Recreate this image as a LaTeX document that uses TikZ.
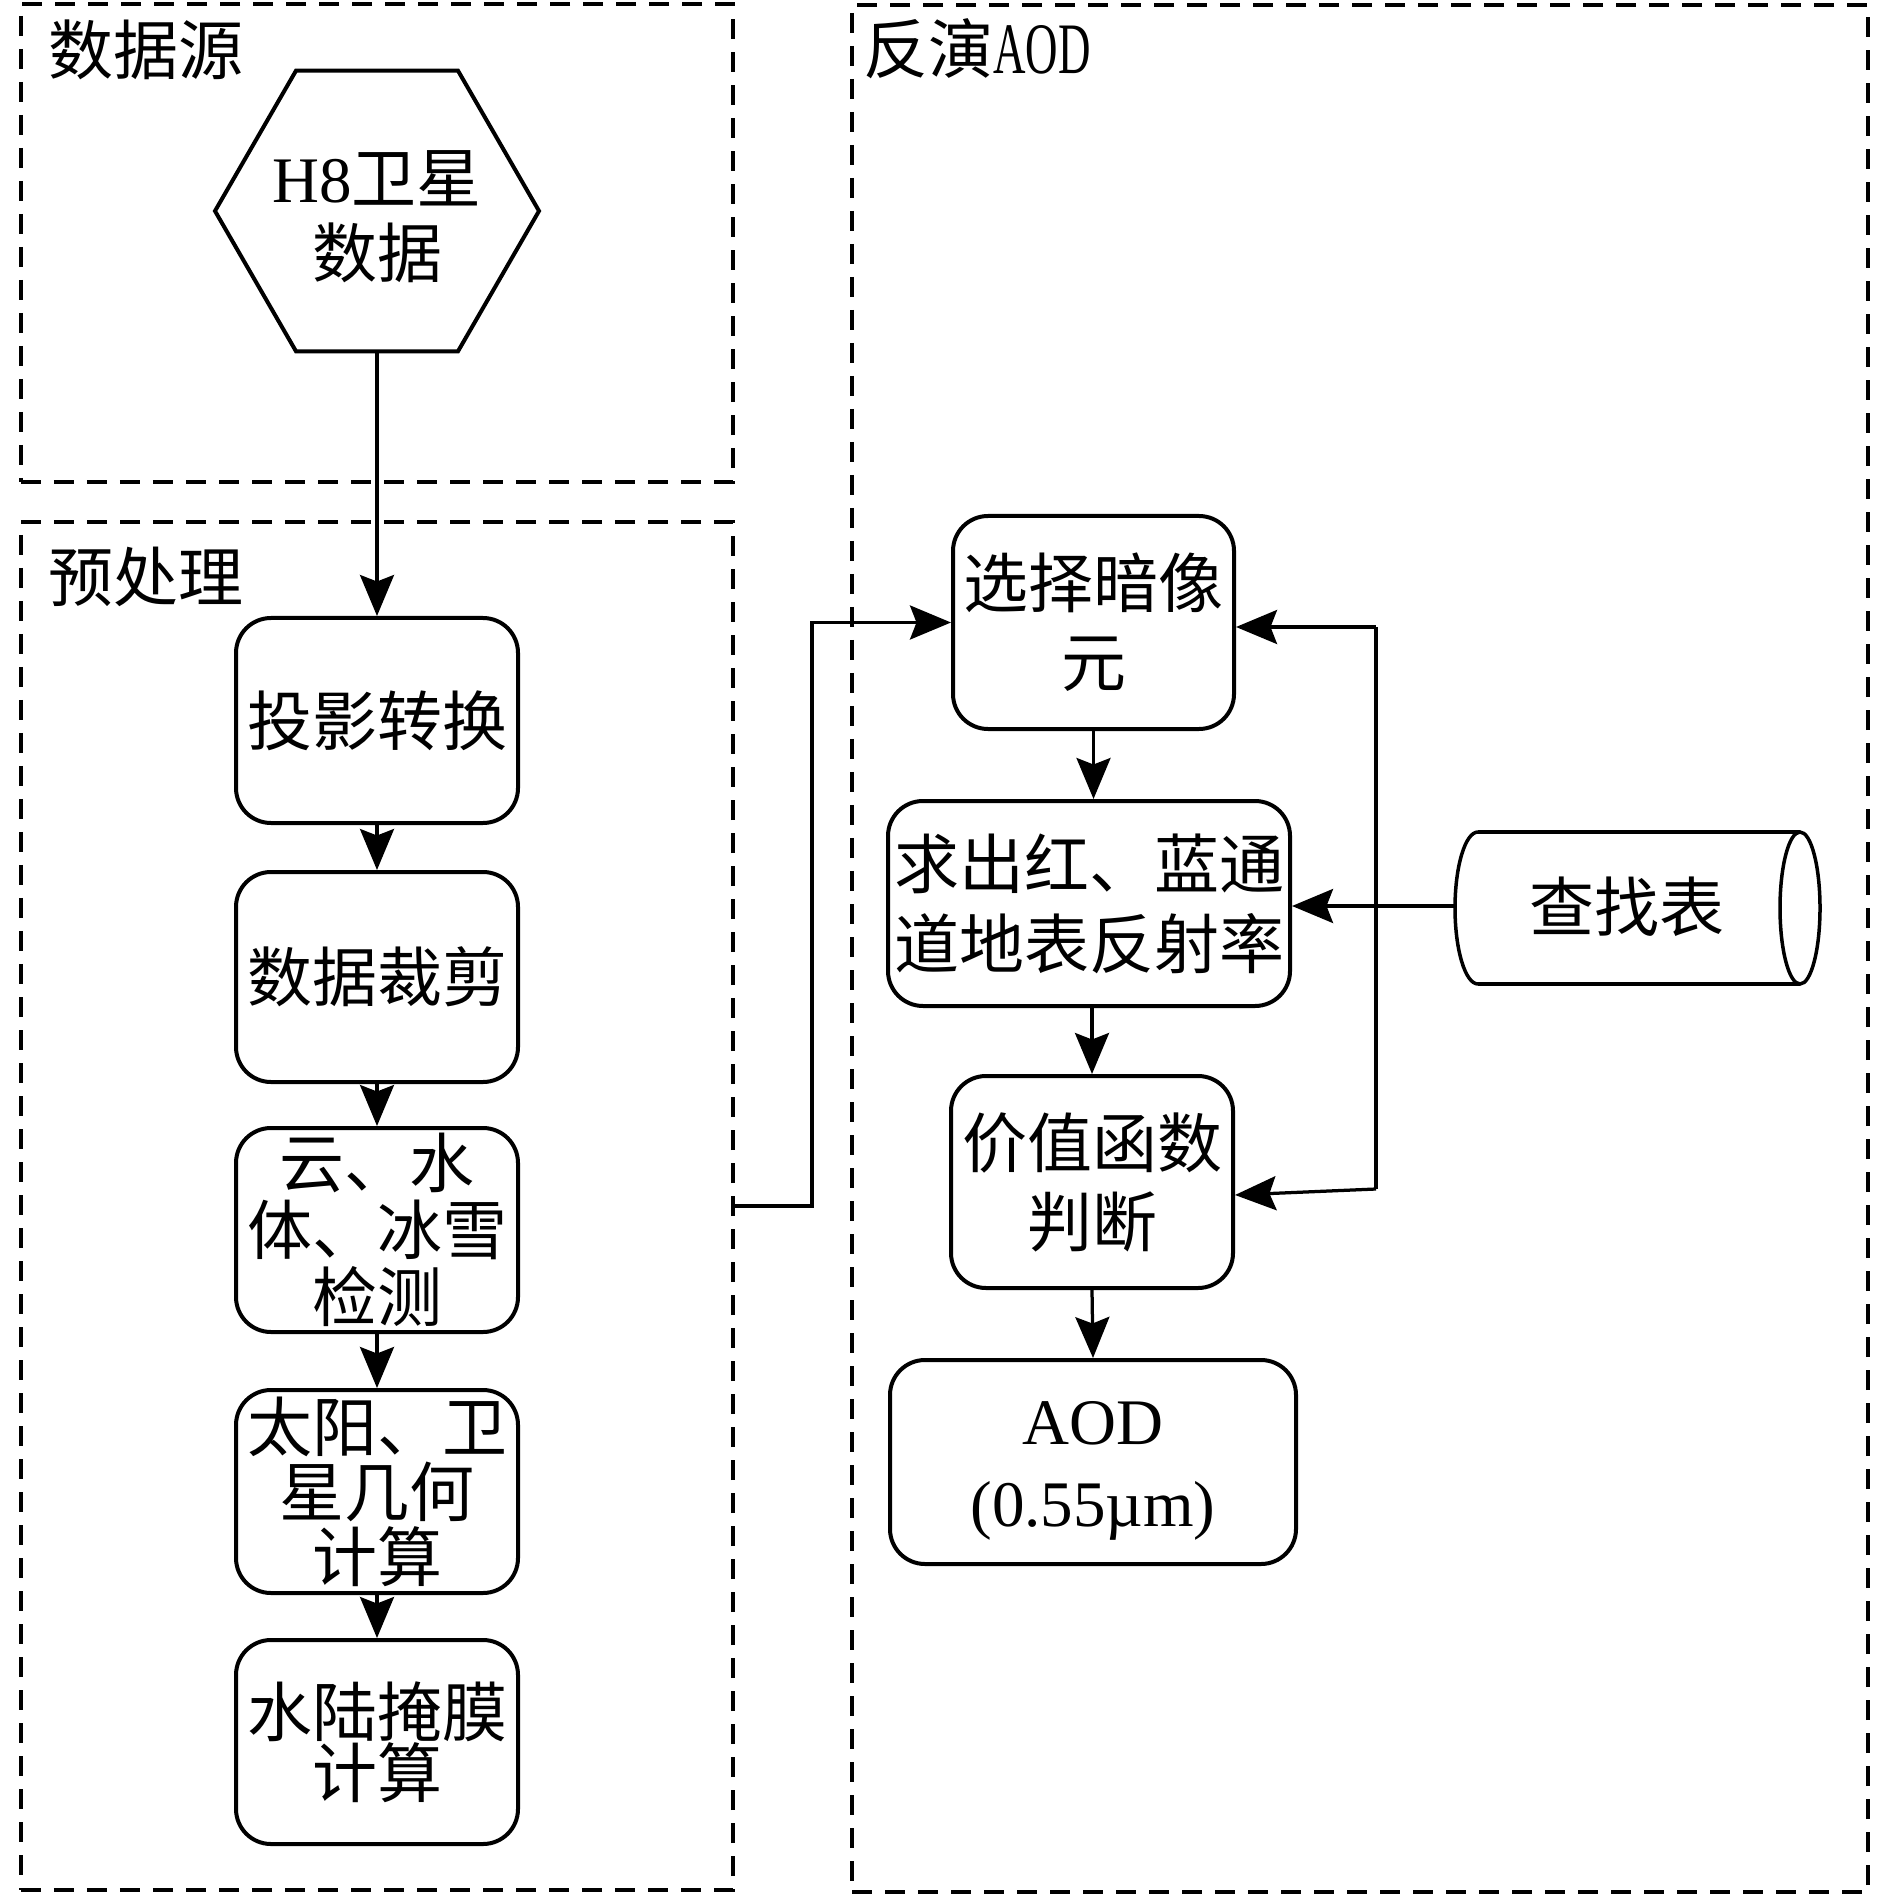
\documentclass[tikz,border=0pt]{standalone}
\usepackage{fontspec}
\usepackage{graphicx}
\setmainfont{Liberation Serif}
\newfontfamily\cjk{Noto Sans CJK SC}
\usetikzlibrary{arrows.meta,shapes.geometric}
\begin{document}
\begin{tikzpicture}[x=0.4pt,y=-0.4pt,
  grp/.style={draw, line width=1.6pt, dash pattern=on 8pt off 5.2pt, rectangle, inner sep=0pt},
  rbox/.style={draw, line width=1.6pt, rounded corners=14pt, align=center, inner sep=0pt,
               font=\cjk\fontsize{26}{#1}\selectfont},
  conn/.style={line width=1.3pt},
  arr/.style={line width=1.3pt, -{Stealth[length=16.4pt,width=13.6pt,inset=2.6pt]}},
  ttl/.style={anchor=west, inner sep=0pt, font=\cjk\fontsize{26}{26}\selectfont}]
\useasboundingbox (0,0) rectangle (1890,1897);

% group frames
\node[grp, minimum width=284.8pt, minimum height=191.2pt] (A) at (377,243) {};
\node[grp, minimum width=284.8pt, minimum height=547.2pt] (B) at (377,1206) {};
\node[grp, minimum width=406.4pt, minimum height=754.8pt] (C) at (1360,948.5) {};

% titles
\node[ttl] (tA) at (48,50) {数据源};
\node[ttl] (tB) at (48,577) {预处理};
\node[ttl] (tC) at (863,49) {反演{\fontsize{29}{29}\selectfont\rmfamily\scalebox{0.62}[1]{AOD}}};

% source
\node[draw, line width=1.6pt, regular polygon, regular polygon sides=6, minimum size=129.6pt,
      inner sep=0pt] (hex) at (377,211) {};
\node[inner sep=0pt, align=center, font=\fontsize{26}{30}\selectfont] (hext) at (377,217)
      {H8{\cjk 卫星}\\{\cjk 数据}};

% preprocessing
\node[rbox=26, minimum width=112.8pt, minimum height=82pt] (b1) at (377,720.5) {投影转换};
\node[rbox=26, minimum width=112.8pt, minimum height=84pt] (b2) at (377,977) {数据裁剪};
\node[rbox=26.8, minimum width=112.8pt, minimum height=81.6pt] (b3) at (377,1230) {云、水\\体、冰雪\\检测};
\node[rbox=26, minimum width=112.8pt, minimum height=81.2pt] (b4) at (377,1491.5) {太阳、卫\\星几何\\计算};
\node[rbox=24.4, minimum width=112.8pt, minimum height=81.6pt] (b5) at (377,1742) {水陆掩膜\\计算};

% retrieval
\node[rbox=31.6, minimum width=112.4pt, minimum height=85.2pt] (r1) at (1093.5,622.5) {选择暗像\\元};
\node[rbox=32, minimum width=160.8pt, minimum height=82pt] (r2) at (1089,903.5) {求出红、蓝通\\道地表反射率};
\node[rbox=31.6, minimum width=112.8pt, minimum height=84.8pt] (r3) at (1092,1182) {价值函数\\判断};
\node[rbox=32.8, minimum width=162.4pt, minimum height=81.6pt] (r4) at (1093,1462) {};
\node[inner sep=0pt, align=center, font=\fontsize{26}{32.8}\selectfont] (r4t) at (1093,1471) {AOD\\(0.55µm)};

% lookup table cylinder
\draw[line width=1.4pt] (1478,832) -- (1800,832) (1478,984) -- (1800,984);
\draw[line width=1.4pt] (1800,908) ellipse [x radius=8pt, y radius=30.4pt];
\draw[line width=1.4pt] (1478,832) arc [start angle=90, end angle=270, x radius=9.2pt, y radius=30.4pt];
\node[inner sep=0pt, font=\cjk\fontsize{26}{26}\selectfont] (lut) at (1627,907) {查找表};
\coordinate (lutw) at (1455,906);

% connectors
\draw[arr] (hex.south) -- (b1.north);
\draw[arr] (b1.south) -- (b2.north);
\draw[arr] (b2.south) -- (b3.north);
\draw[arr] (b3.south) -- (b4.north);
\draw[arr] (b4.south) -- (b5.north);

\coordinate (k1) at (812,1206);
\draw[arr] (B.east) -- (k1) |- (r1.west);

\draw[arr] (r1.south) -- (r1.south |- r2.north);
\draw[arr] (r2.south -| r3.north) -- (r3.north);
\draw[arr] (r3.south) -- (r4.north);

\coordinate (j1) at (1376,627);
\coordinate (j2) at (1376,1189);
\draw[conn] (j1) -- (j2);
\draw[arr] (j1) -- (j1 -| r1.east);
\draw[arr] (j2) -- ([yshift=-5.2pt]r3.east);
\draw[arr] (lutw) -- (lutw -| r2.east);
\end{tikzpicture}
\end{document}
